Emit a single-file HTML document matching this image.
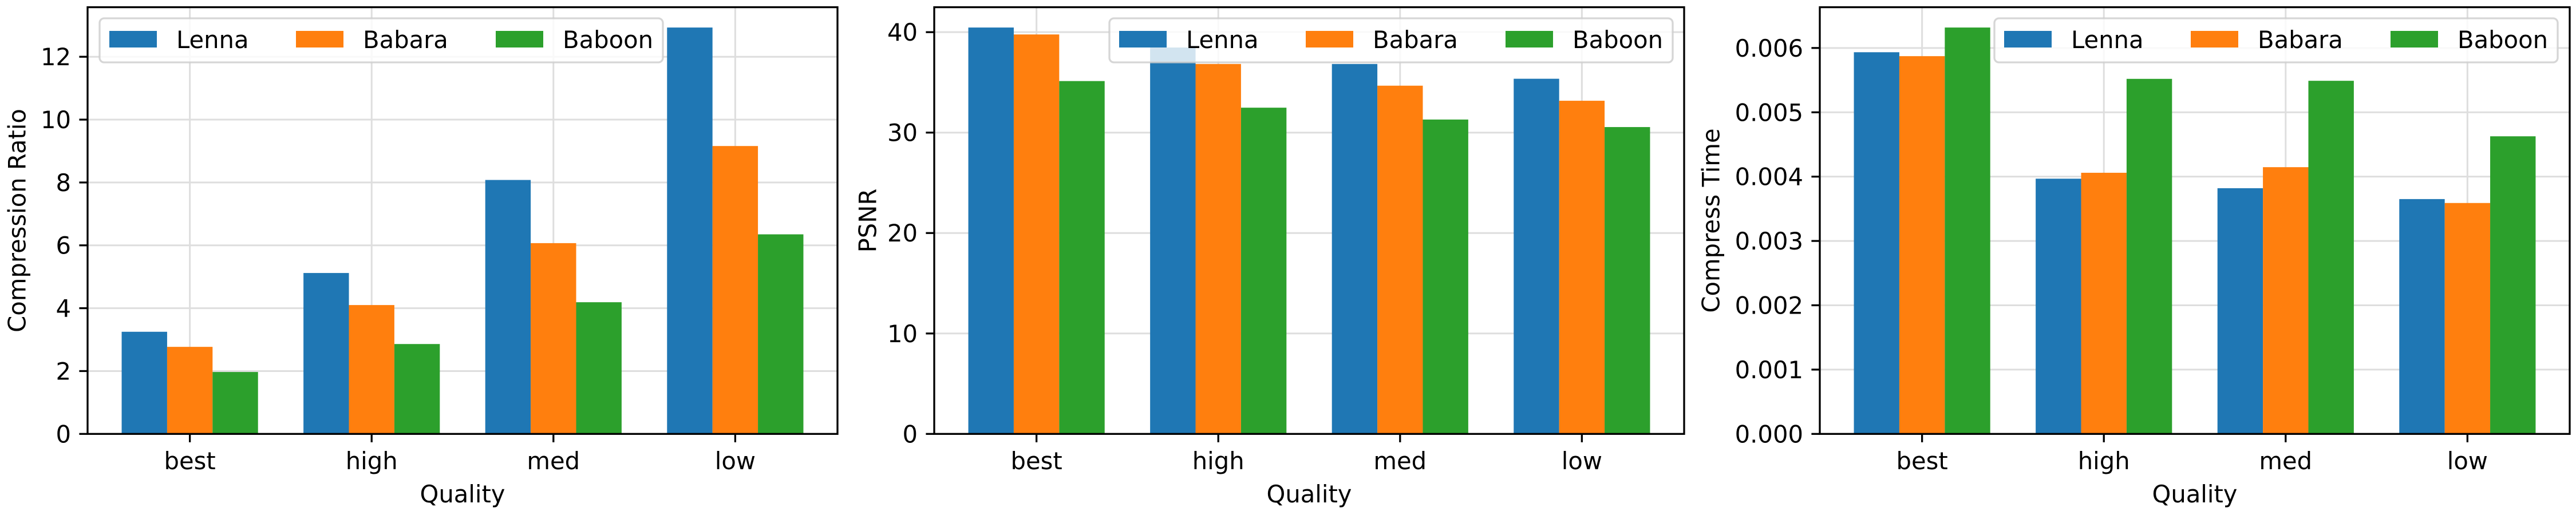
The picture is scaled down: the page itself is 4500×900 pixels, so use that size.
<!DOCTYPE html>
<html><head><meta charset="utf-8"><style>
html,body{margin:0;padding:0;background:#fff;}
svg{display:block;font-family:"DejaVu Sans","Liberation Sans",sans-serif;}
</style></head>
<body>
<svg id="fig" width="4500" height="900" viewBox="0 0 4500 900" xmlns="http://www.w3.org/2000/svg"></svg>
<script>
const categories = ["best","high","med","low"];
const seriesNames = ["Lenna","Babara","Baboon"];
const ratioLenna = [3.25, 5.12, 8.08, 12.93];
const ratioBabara = [2.77, 4.10, 6.07, 9.16];
const ratioBaboon = [1.97, 2.86, 4.19, 6.35];
const psnrLenna = [40.46, 38.47, 36.83, 35.36];
const psnrBabara = [39.77, 36.83, 34.67, 33.17];
const psnrBaboon = [35.13, 32.48, 31.30, 30.55];
const timeLenna = [0.005934, 0.003968, 0.003820, 0.003651];
const timeBabara = [0.005873, 0.004060, 0.004147, 0.003590];
const timeBaboon = [0.006318, 0.005520, 0.005490, 0.004627];
const ratioTicks = [0,2,4,6,8,10,12];
const psnrTicks = [0,10,20,30,40];
const timeTicks = [0,0.001,0.002,0.003,0.004,0.005,0.006];
const timeTickLabels = ["0.000","0.001","0.002","0.003","0.004","0.005","0.006"];

const colors = ["#1f77b4","#ff7f0e","#2ca02c"];
const NS = "http://www.w3.org/2000/svg";
const svg = document.getElementById("fig");
function mk(tag, attrs, parent, text){
  const e = document.createElementNS(NS, tag);
  for (const k in attrs) e.setAttribute(k, attrs[k]);
  if (text !== undefined) e.textContent = text;
  (parent||svg).appendChild(e);
  return e;
}
const FS = 41.7;
function panel(opt){
  const g = mk("g", {});
  
  
  const L=opt.left, R=opt.right, T=12.6, B=758.3;
  const all = opt.series.flat();
  const ymax = Math.max(...all)*1.05;
  const y = v => B - v/ymax*(B-T);
  const xmin=-0.5625, xmax=3.5625;
  const x = v => L + (v-xmin)/(xmax-xmin)*(R-L);
  const bw = 0.25;
  // grid
  opt.ticks.forEach((t,i)=>{
    const gl = mk("line",{x1:L,x2:R,y1:y(t),y2:y(t),stroke:"#dedede","stroke-width":3},g);
    
    
  });
  categories.forEach((c,i)=>{
    const gl = mk("line",{x1:x(i),x2:x(i),y1:T,y2:B,stroke:"#dedede","stroke-width":3},g);
    
    
  });
  // bars
  opt.series.forEach((s,si)=>{
    s.forEach((v,ci)=>{
      const cx = ci + (si-1)*bw;
      const r = mk("rect",{x:x(cx-bw/2),y:y(v),width:x(cx+bw/2)-x(cx-bw/2),height:B-y(v),fill:colors[si]},g);
      
      
    });
  });
  // y ticks
  opt.ticks.forEach((t,i)=>{
    mk("line",{x1:L-14.6,x2:L,y1:y(t),y2:y(t),stroke:"#000","stroke-width":3.3},g);
    const tl = mk("text",{x:L-29,y:y(t)+15,"text-anchor":"end","font-size":FS,fill:"#000"},g,opt.tickLabels[i]);
    
    
  });
  // x ticks
  categories.forEach((c,i)=>{
    mk("line",{x1:x(i),x2:x(i),y1:B,y2:B+14.6,stroke:"#000","stroke-width":3.3},g);
    const tl = mk("text",{x:x(i),y:820,"text-anchor":"middle","font-size":FS,fill:"#000"},g,c);
    
    
  });
  // frame
  const fr = mk("rect",{x:L,y:T,width:R-L,height:B-T,fill:"none",stroke:"#000","stroke-width":3.3},g);
  
  
  const xl = mk("text",{x:(L+R)/2,y:878,"text-anchor":"middle","font-size":FS,fill:"#000"},g,"Quality");
  
  
  const yc = (T+B)/2, yx = opt.ylabelX;
  const yl = mk("text",{x:yx,y:yc,"text-anchor":"middle","dominant-baseline":"central","font-size":FS,fill:"#000",transform:`rotate(-90 ${yx} ${yc})`},g,opt.ylabel);
  
  
  // legend
  const lg = mk("g",{},g);
  
  
  const lx = opt.legendX, ly=32, lw=984, lh=77;
  mk("rect",{x:lx,y:ly,width:lw,height:lh,rx:8,fill:"#fff","fill-opacity":0.8,stroke:"#cccccc","stroke-opacity":0.8,"stroke-width":3.3},lg);
  const offs=[17,343,692];
  seriesNames.forEach((n,i)=>{
    const le = mk("g",{},lg);
    
    
    mk("rect",{x:lx+offs[i],y:54,width:83,height:29,fill:colors[i]},le);
    mk("text",{x:lx+offs[i]+117,y:84,"font-size":FS,fill:"#000"},le,n);
  });
}
panel({name:"compression-ratio-chart",left:153,right:1463,series:[ratioLenna,ratioBabara,ratioBaboon],ticks:ratioTicks,tickLabels:ratioTicks.map(String),ylabel:"Compression Ratio",ylabelX:30,legendX:174});
panel({name:"psnr-chart",left:1632,right:2942,series:[psnrLenna,psnrBabara,psnrBaboon],ticks:psnrTicks,tickLabels:psnrTicks.map(String),ylabel:"PSNR",ylabelX:1516,legendX:1938});
panel({name:"compress-time-chart",left:3179,right:4489,series:[timeLenna,timeBabara,timeBaboon],ticks:timeTicks,tickLabels:timeTickLabels,ylabel:"Compress Time",ylabelX:2989,legendX:3484});
</script>
</body></html>
